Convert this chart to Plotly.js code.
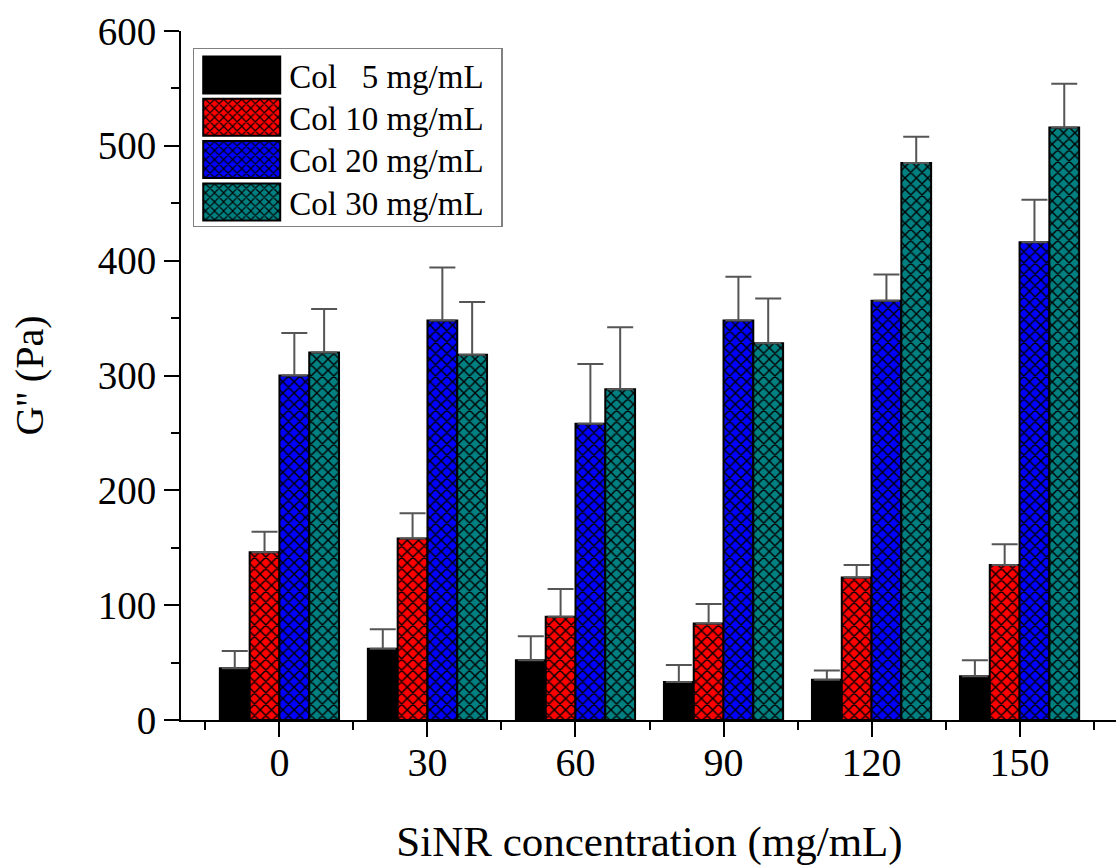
<!DOCTYPE html>
<html>
<head>
<meta charset="utf-8">
<script src="https://cdn.plot.ly/plotly-3.0.1.min.js"></script>
<style>
  html, body { margin: 0; padding: 0; overflow: hidden; background: #fff; }
  #chart { width: 1120px; height: 868px; }
</style>
</head>
<body>
<div id="chart"></div>
<script>
// ---- data ----
const sinrConc = [0, 30, 60, 90, 120, 150];
const tickLabels = ['0', '30', '60', '90', '120', '150'];
const seriesNames = ['Col\u00a0\u00a0\u00a05 mg/mL', 'Col 10 mg/mL', 'Col 20 mg/mL', 'Col 30 mg/mL'];
const col5 = [45, 62, 52, 33, 35, 38];
const col5Err = [15, 17, 21, 15, 8, 14];
const col10 = [146, 158, 90, 84, 124, 135];
const col10Err = [18, 22, 24, 17, 11, 18];
const col20 = [300, 348, 258, 348, 365, 416];
const col20Err = [37, 46, 52, 38, 23, 37];
const col30 = [320, 318, 288, 328, 485, 516];
const col30Err = [38, 46, 54, 39, 23, 38];

const FONT = '"Liberation Serif", "Times New Roman", serif';
const colors = ['#000000', '#ff0000', '#0000ff', '#008080'];
const patterns = ['', 'x', 'x', 'x'];
const values = [col5, col10, col20, col30];
const errs = [col5Err, col10Err, col20Err, col30Err];

const traces = values.map((v, i) => ({
  type: 'bar',
  name: seriesNames[i],
  x: sinrConc,
  y: v,
  marker: {
    color: colors[i],
    line: { color: '#000', width: 2 },
    pattern: { shape: patterns[i], fgcolor: '#000', bgcolor: colors[i], size: 8, solidity: 0.32 }
  },
  error_y: {
    type: 'data', symmetric: false,
    array: errs[i], arrayminus: v.map(() => 0),
    color: '#555', thickness: 2, width: 13
  },
  hoverinfo: 'x+y'
}));

const layout = {
  width: 1120, height: 868,
  margin: { l: 181, r: 2, t: 31, b: 148 },
  paper_bgcolor: '#fff', plot_bgcolor: '#fff',
  font: { family: FONT, color: '#000' },
  barmode: 'group',
  bargap: 0.195,
  bargroupgap: 0,
  showlegend: true,
  legend: {
    x: 0.0125, y: 0.976, xanchor: 'left', yanchor: 'top',
    bgcolor: '#fff', bordercolor: '#808080', borderwidth: 1.5,
    font: { family: FONT, size: 33, color: '#000' },
    itemwidth: 85, traceorder: 'normal', tracegroupgap: 0
  },
  xaxis: {
    range: [-19.95, 169.95],
    tickvals: sinrConc, ticktext: tickLabels,
    ticks: 'outside', ticklen: 15, tickwidth: 2, tickcolor: '#000',
    minor: { dtick: 15, tick0: 0, ticks: 'outside', ticklen: 8, tickwidth: 2, tickcolor: '#000' },
    showline: true, linecolor: '#000', linewidth: 2,
    showgrid: false, zeroline: false,
    tickfont: { family: FONT, size: 40 },
    ticklabelstandoff: -9,
    title: { text: 'SiNR concentration (mg/mL)', font: { family: FONT, size: 43 }, standoff: 42 },
    automargin: false
  },
  yaxis: {
    range: [0, 600], dtick: 100, tick0: 0,
    ticks: 'outside', ticklen: 15, tickwidth: 2, tickcolor: '#000',
    minor: { dtick: 50, tick0: 0, ticks: 'outside', ticklen: 8, tickwidth: 2, tickcolor: '#000' },
    showline: true, linecolor: '#000', linewidth: 2,
    showgrid: false, zeroline: false,
    tickfont: { family: FONT, size: 39 },
    title: { text: "G'' (Pa)", font: { family: FONT, size: 40 }, standoff: 42 },
    automargin: false
  },
  xaxis2: {
    overlaying: 'x', side: 'top', anchor: 'y',
    range: [0, 5], dtick: 1, tick0: 0,
    ticks: 'inside', ticklen: 15, tickwidth: 2, tickcolor: '#000',
    minor: { dtick: 0.5, tick0: 0, ticks: 'inside', ticklen: 8, tickwidth: 2, tickcolor: '#000' },
    showline: true, linecolor: '#000', linewidth: 2,
    showticklabels: false, showgrid: false, zeroline: false, fixedrange: true
  },
  yaxis2: {
    overlaying: 'y', side: 'right', anchor: 'x',
    range: [0, 600], dtick: 100, tick0: 0,
    ticks: 'inside', ticklen: 15, tickwidth: 2, tickcolor: '#000',
    minor: { dtick: 50, tick0: 0, ticks: 'inside', ticklen: 8, tickwidth: 2, tickcolor: '#000' },
    showline: true, linecolor: '#000', linewidth: 2,
    showticklabels: false, showgrid: false, zeroline: false, fixedrange: true
  }
};

Plotly.newPlot('chart', traces, layout, { displayModeBar: false, staticPlot: true }).then(gd => {
  // enlarge legend swatches to look like the reference's wide boxes
  gd.querySelectorAll('.legend .legendpoints path').forEach(p => {
    if (p.getAttribute('d') === 'M6,6H-6V-6H6Z') {
      p.setAttribute('d', 'M38.5,18.5H-38.5V-18.5H38.5Z');
    }
  });
  // tighten legend row spacing and box size to the reference
  const items = gd.querySelectorAll('.legend .traces');
  const rowGap = 42.3;
  let x0 = null, y0 = null;
  items.forEach((g, i) => {
    const m = /translate\(\s*([-\d.]+)[ ,]+([-\d.]+)\s*\)/.exec(g.getAttribute('transform') || '');
    if (!m) return;
    if (x0 === null) { x0 = parseFloat(m[1]); y0 = parseFloat(m[2]) - 2; }
    g.setAttribute('transform', `translate(${x0},${y0 + i * rowGap})`);
  });
  const bg = gd.querySelector('.legend rect.bg');
  if (bg && items.length) {
    bg.setAttribute('height', String(y0 + (items.length - 1) * rowGap + 22 + 2));
    bg.setAttribute('width', String(parseFloat(bg.getAttribute('width')) + 12));
  }
});
</script>
</body>
</html>
